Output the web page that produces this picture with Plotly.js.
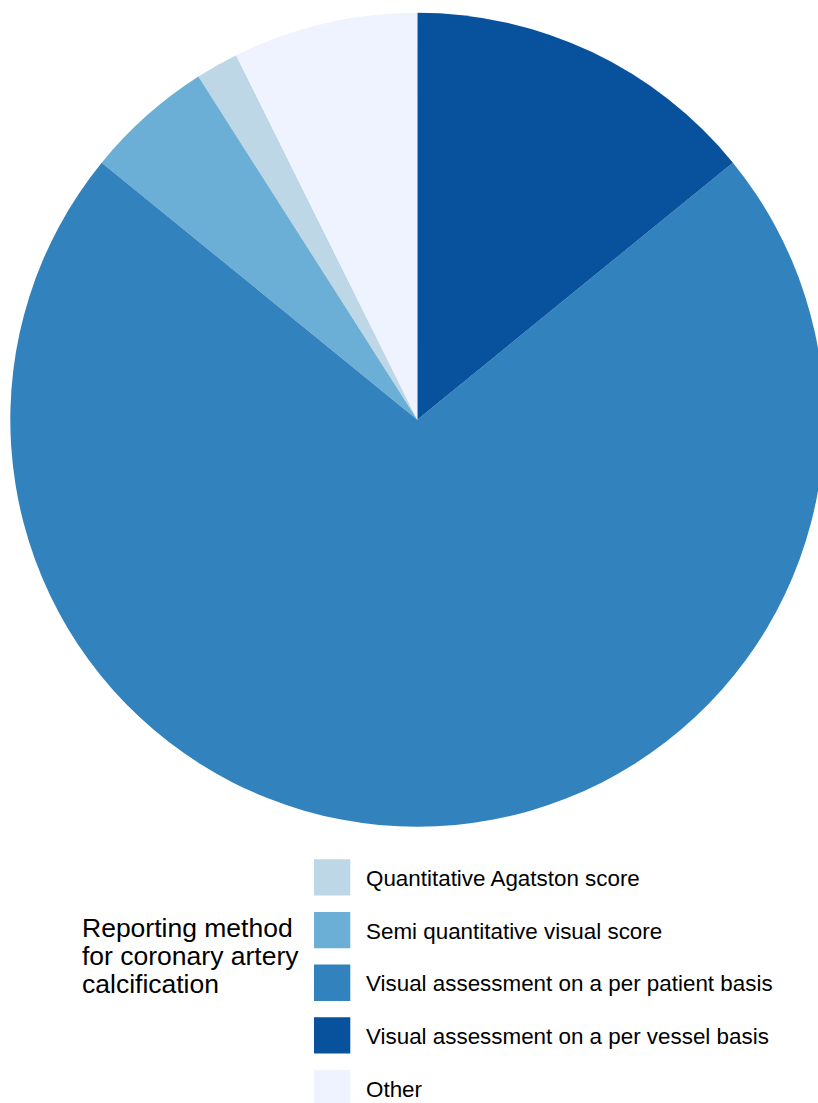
<!DOCTYPE html>
<html>
<head>
<meta charset="utf-8">
<script src="https://cdn.plot.ly/plotly-3.0.1.min.js"></script>
<style>
  html, body { margin: 0; padding: 0; overflow: hidden; background: #ffffff; }
  #chart { width: 830px; height: 1103px; }
</style>
</head>
<body>
<div id="chart"></div>
<script>
// ---- data ----
const labels = [
  'Quantitative Agatston score',
  'Semi quantitative visual score',
  'Visual assessment on a per patient basis',
  'Visual assessment on a per vessel basis',
  'Other'
];
const values = [3, 9, 127, 25, 13];
const colors = ['#bdd7e7', '#6baed6', '#3182bd', '#08519c', '#eff3ff'];
const legendTitleLines = ['Reporting method', 'for coronary artery', 'calcification'];

// ---- layout helpers (pixel -> paper) ----
const W = 830, H = 1103;
const px = x => x / W;
const py = y => 1 - y / H;

// pie geometry
const cx = 417.3, cy = 419.7, R = 407;

// rotation so that the last slice ("Other") ends at 12 o'clock
const total = values.reduce((a, b) => a + b, 0);
const rotation = -360 * (values[0] + values[values.length - 1]) / total;

const trace = {
  type: 'pie',
  labels: labels,
  values: values,
  sort: false,
  direction: 'counterclockwise',
  rotation: rotation,
  marker: { colors: colors, line: { width: 0 } },
  textinfo: 'none',
  hoverinfo: 'label+value+percent',
  showlegend: false,
  domain: { x: [px(cx - R), px(cx + R)], y: [py(cy + R), py(cy - R)] }
};

// ---- custom legend built from labels / colors ----
const fontFam = 'Liberation Sans, Arial, Helvetica, sans-serif';
const sqX0 = 314, sqSize = 36.3, rowTop0 = 859.3, rowStep = 52.65, textX = 364.5;
const shapes = [];
const annotations = [];
labels.forEach((lab, i) => {
  const top = rowTop0 + i * rowStep;
  shapes.push({
    type: 'rect', xref: 'paper', yref: 'paper',
    x0: px(sqX0), x1: px(sqX0 + sqSize),
    y0: py(top), y1: py(top + sqSize),
    fillcolor: colors[i], line: { width: 0 }
  });
  annotations.push({
    xref: 'paper', yref: 'paper',
    x: px(textX), y: py(top + sqSize / 2 + 1),
    xanchor: 'left', yanchor: 'middle',
    borderpad: 0,
    text: lab, showarrow: false,
    font: { family: fontFam, size: 22.4, color: '#000000' }
  });
});
const titleCenters = [927.7, 956, 984.3];
legendTitleLines.forEach((t, i) => {
  annotations.push({
    xref: 'paper', yref: 'paper',
    x: px(81), y: py(titleCenters[i]),
    xanchor: 'left', yanchor: 'middle',
    borderpad: 0,
    text: t, showarrow: false,
    font: { family: fontFam, size: 26.5, color: '#000000' }
  });
});

const layout = {
  width: W, height: H,
  margin: { l: 0, r: 0, t: 0, b: 0, pad: 0 },
  paper_bgcolor: '#ffffff',
  plot_bgcolor: '#ffffff',
  showlegend: false,
  shapes: shapes,
  annotations: annotations
};

Plotly.newPlot('chart', [trace], layout, { displayModeBar: false, responsive: false });
</script>
</body>
</html>
